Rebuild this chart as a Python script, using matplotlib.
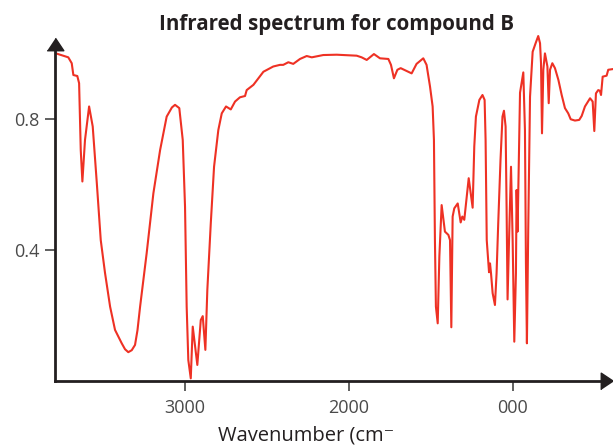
import matplotlib
matplotlib.use("Agg")
import matplotlib.pyplot as plt

# ---- data ----
wavenumber = [3787, 3712, 3691, 3681, 3657, 3646, 3636, 3626, 3610, 3585, 3563, 3538, 3514,
              3488, 3457, 3427, 3386, 3366, 3346, 3325, 3305, 3290, 3274, 3234, 3193, 3152, 3112, 3080, 3061, 3035,
              3014, 3000, 2990, 2980, 2965, 2953, 2925, 2904, 2892, 2876, 2864, 2843, 2823,
              2797, 2776, 2750, 2721, 2695, 2665, 2634, 2624, 2583, 2522, 2462, 2421, 2401,
              2370, 2340, 2299, 2258, 2227, 2157, 2075, 1953, 1923, 1892, 1848, 1811, 1760,
              1744, 1726, 1705, 1685, 1618, 1588, 1547, 1527, 1506, 1490, 1482, 1476, 1470,
              1459, 1449, 1435, 1415, 1394, 1384, 1376, 1368, 1358, 1337, 1319, 1309, 1297,
              1282, 1270, 1258, 1246, 1236, 1226, 1205, 1186, 1173, 1167, 1160, 1150, 1146,
              1140, 1134, 1124, 1110, 1100, 1090, 1076, 1064, 1055, 1045, 1039, 1033, 1024,
              1012, 1002, 992, 982, 978, 972, 957, 937, 927, 921, 915, 907, 896, 880, 862,
              846, 835, 829, 823, 815, 805, 790, 782, 774, 760, 744, 723, 703, 683, 663, 648,
              622, 596, 581, 561, 530, 514, 504, 494, 480, 470, 463, 453, 429, 419, 392]
transmittance = [1.0, 0.988, 0.97, 0.934, 0.931, 0.909, 0.705, 0.609, 0.736, 0.838, 0.777, 0.604, 0.43,
                 0.33, 0.227, 0.156, 0.115, 0.097, 0.088, 0.094, 0.11, 0.155, 0.227, 0.39, 0.573, 0.705, 0.807, 0.835, 0.843, 0.833,
                 0.736, 0.532, 0.227, 0.064, 0.008, 0.166, 0.049, 0.186, 0.198, 0.095, 0.278, 0.481, 0.654,
                 0.766, 0.817, 0.838, 0.829, 0.853, 0.866, 0.87, 0.888, 0.904, 0.944, 0.96, 0.965, 0.965,
                 0.973, 0.968, 0.983, 0.992, 0.988, 0.995, 0.996, 0.993, 0.988, 0.98, 0.998, 0.985, 0.983,
                 0.965, 0.924, 0.95, 0.955, 0.939, 0.968, 0.985, 0.965, 0.899, 0.838, 0.736, 0.43, 0.227,
                 0.176, 0.38, 0.537, 0.456, 0.446, 0.43, 0.164, 0.502, 0.527, 0.542, 0.484, 0.502, 0.492,
                 0.563, 0.619, 0.573, 0.529, 0.716, 0.807, 0.858, 0.873, 0.858, 0.736, 0.43, 0.359, 0.332,
                 0.359, 0.329, 0.268, 0.232, 0.329, 0.481, 0.675, 0.807, 0.825, 0.777, 0.532, 0.249, 0.43,
                 0.654, 0.43, 0.12, 0.329, 0.583, 0.456, 0.88, 0.942, 0.766, 0.36, 0.115, 0.461, 0.868, 1.005, 1.031,
                 1.053, 1.031, 0.97, 0.756, 0.95, 1.0, 0.96, 0.848, 0.95, 0.97, 0.955, 0.919, 0.873, 0.833, 0.817, 0.799,
                 0.795, 0.797, 0.809, 0.838, 0.863, 0.853, 0.763, 0.878, 0.888, 0.886, 0.873, 0.929, 0.932, 0.95, 0.952]

x_ticks = [3000, 2000, 1000]
x_tick_labels = ["3000", "2000", "000"]
y_ticks = [0.4, 0.8]
y_tick_labels = ["0.4", "0.8"]
title = "Infrared spectrum for compound B"
x_label = "Wavenumber (cm\u207b"

FONT = ["Open Sans", "DejaVu Sans"]
plt.rcParams["font.family"] = FONT

W, H = 613, 447
fig = plt.figure(figsize=(W / 100, H / 100), dpi=100)
ax = fig.add_axes([55 / W, 66 / H, 558 / W, 343 / H])

red = "#ee3124"
ax.plot(wavenumber, transmittance, color=red, lw=1.5, clip_on=False, solid_joinstyle="round")

ax.set_xlim(3793, 390)
ax.set_ylim(0, 1.047)

for s in ["top", "right"]:
    ax.spines[s].set_visible(False)
axis_col = "#231f20"
for s in ["left", "bottom"]:
    ax.spines[s].set_color(axis_col)
    ax.spines[s].set_linewidth(2.0)
ax.spines["left"].set_bounds(0, 1.02)
ax.spines["bottom"].set_bounds(3793, 440)

# arrow heads
tri_up = [(-1, -0.75), (1, -0.75), (0, 0.75)]
tri_right = [(-0.75, -1), (-0.75, 1), (0.75, 0)]
ax.plot([0], [1.029], marker=tri_up, markersize=12, color=axis_col,
        transform=ax.get_yaxis_transform(), clip_on=False)
ax.plot([427], [0], marker=tri_right, markersize=12, color=axis_col,
        transform=ax.get_xaxis_transform(), clip_on=False)

ax.set_xticks(x_ticks)
ax.set_xticklabels(x_tick_labels)
ax.set_yticks(y_ticks)
ax.set_yticklabels(y_tick_labels)
ax.tick_params(axis="both", direction="out", length=7, width=1.2, color="#444444",
               labelsize=13, labelcolor="#4a4a4a")
ax.tick_params(axis="x", pad=6)
ax.tick_params(axis="y", pad=4)

fig.text(336.5 / W, (H - 30) / H, title, ha="center", va="baseline",
         fontsize=14.8, fontweight="bold", color="#231f20")
fig.text(218 / W, (H - 440) / H, x_label, ha="left", va="baseline",
         fontsize=14.5, color="#231f20")

fig.savefig("out.png", dpi=100)
